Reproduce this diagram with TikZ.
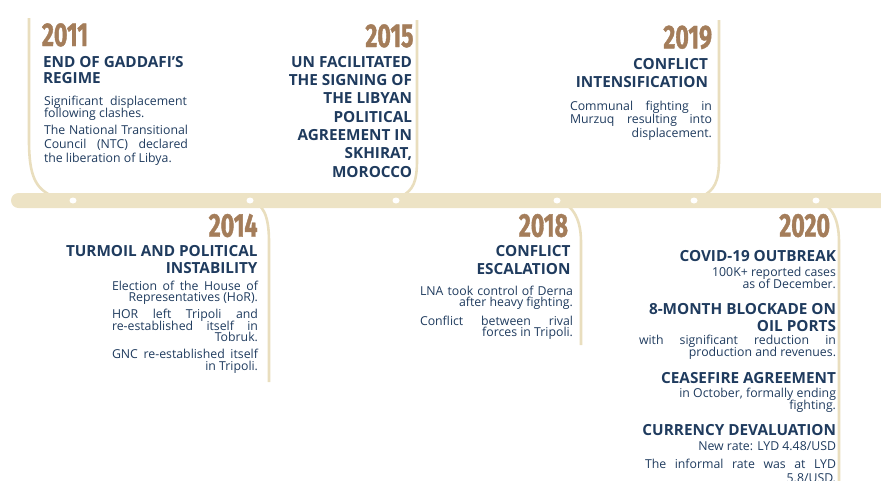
\documentclass[tikz,border=0pt]{standalone}
\usepackage{fontspec}
\setmainfont{Open Sans}
\IfFontExistsTF{Open Sans SemiBold}{\newfontfamily\ttlfont{Open Sans SemiBold}\def\ttlsize{15.8}}{\newfontfamily\ttlfont{Open Sans}[UprightFont=*-Bold,UprightFeatures={}]\def\ttlsize{15.3}}
\newfontfamily\yearfont[FakeStretch=0.7,FakeBold=1.2]{Fira Sans}
\definecolor{yearc}{HTML}{A47D5A}
\definecolor{navy}{HTML}{1F3B5E}
\definecolor{barc}{HTML}{EDE3C5}
\definecolor{linec}{HTML}{E9DEBE}
\newcommand\Lr[5]{\node[#1,anchor=base east] (#2) at (#3,#4) {#5};}
\newcommand\Ll[5]{\node[#1,anchor=base west] (#2) at (#3,#4) {#5};}
\newcommand\Lj[6]{\node[#1,anchor=base west] (#2) at (#3,#4) {\makebox[#5pt][s]{#6}};}
\begin{document}
\begin{tikzpicture}[x=1pt,y=-1pt,
  every node/.style={inner sep=0pt,outer sep=0pt},
  yr/.style={font=\yearfont\bfseries\fontsize{33}{33}\selectfont,text=yearc},
  ttl/.style={font=\ttlfont\fontsize{\ttlsize}{\ttlsize}\selectfont,text=navy},
  bd/.style={font=\fontsize{12.3}{12.3}\selectfont,text=navy},
  tl/.style={draw=linec,line width=2.6pt}]
\useasboundingbox (0,0) rectangle (881,480);
\clip (0,0) rectangle (881,480);
% connector lines
\draw[tl] (29,18) -- (29,140) .. controls (29,175) and (35,188) .. (52,196);
\draw[tl] (417,20) -- (417,160) .. controls (417,182) and (413,190) .. (402,196);
\draw[tl] (719,20) -- (719,160) .. controls (719,182) and (714,190) .. (703,196);
\draw[tl] (250,200) .. controls (263,204) and (269,215) .. (269,242) -- (269,382);
\draw[tl] (557,200) .. controls (570,204) and (581,215) .. (581,242) -- (581,345);
\draw[tl] (816,200) .. controls (829,204) and (839,215) .. (839,242) -- (839,490);
% bar
\fill[barc, rounded corners=7.5pt] (11,193) rectangle (900,208);
\foreach \x in {73,250,396,557,694,816} \fill[white] (\x,200.5) ellipse (3.5pt and 3pt);
% 2011
\Ll{yr}{y11}{42}{46}{2011}
\Ll{ttl}{t11a}{43}{67}{END OF GADDAFI’S}
\Ll{ttl}{t11b}{43}{83.5}{REGIME}
\Lj{bd}{b11a}{44}{105}{143}{Significant displacement}
\Ll{bd}{b11b}{44}{117}{following clashes.}
\Lj{bd}{b11c}{44}{134}{144}{The National Transitional}
\Lj{bd}{b11d}{44}{148.5}{144}{Council (NTC) declared}
\Ll{bd}{b11e}{44}{162.5}{the liberation of Libya.}
% 2015
\Lr{yr}{y15}{413.5}{47}{2015}
\Lr{ttl}{t15a}{412}{67}{UN FACILITATED}
\Lr{ttl}{t15b}{412}{85.3}{THE SIGNING OF}
\Lr{ttl}{t15c}{412}{103.7}{THE LIBYAN}
\Lr{ttl}{t15d}{412}{122}{POLITICAL}
\Lr{ttl}{t15e}{412}{140.3}{AGREEMENT IN}
\Lr{ttl}{t15f}{412}{158.7}{SKHIRAT,}
\Lr{ttl}{t15g}{412}{177}{MOROCCO}
% 2019
\Lr{yr}{y19}{712}{48.3}{2019}
\Lr{ttl}{t19a}{708}{69}{CONFLICT}
\Lr{ttl}{t19b}{708}{87}{INTENSIFICATION}
\Lj{bd}{b19a}{570}{110}{142}{Communal fighting in}
\Lj{bd}{b19b}{570}{123.5}{142}{Murzuq resulting into}
\Lr{bd}{b19c}{712}{137}{displacement.}
% 2014
\Lr{yr}{y14}{257.5}{236.7}{2014}
\Lr{ttl}{t14a}{257.5}{256}{TURMOIL AND POLITICAL}
\Lr{ttl}{t14b}{257.5}{273.3}{INSTABILITY}
\Lj{bd}{b14a}{112}{290}{146}{Election of the House of}
\Lr{bd}{b14b}{258}{301.7}{Representatives (HoR).}
\Lj{bd}{b14c}{112}{318.3}{146}{HOR left Tripoli and}
\Lj{bd}{b14d}{112}{330}{146}{re-established itself in}
\Lr{bd}{b14e}{258}{341.7}{Tobruk.}
\Lj{bd}{b14f}{112}{358.3}{146}{GNC re-established itself}
\Lr{bd}{b14g}{258}{370}{in Tripoli.}
% 2018
\Lr{yr}{y18}{568}{236.7}{2018}
\Lr{ttl}{t18a}{570.5}{256.7}{CONFLICT}
\Lr{ttl}{t18b}{570.5}{274.3}{ESCALATION}
\Lj{bd}{b18a}{420}{295}{153}{LNA took control of Derna}
\Lr{bd}{b18b}{573}{306.7}{after heavy fighting.}
\Lj{bd}{b18c}{420}{325}{153}{Conflict between rival}
\Lr{bd}{b18d}{573}{336.7}{forces in Tripoli.}
% 2020
\Lr{yr}{y20}{830}{236.7}{2020}
\Lr{ttl}{t20a}{836}{261.7}{COVID-19 OUTBREAK}
\Lr{bd}{b20a}{836}{276.7}{100K+ reported cases}
\Lr{bd}{b20b}{836}{288.3}{as of December.}
\Lr{ttl}{t20b}{836}{314}{8-MONTH BLOCKADE ON}
\Lr{ttl}{t20c}{836}{331.7}{OIL PORTS}
\Lj{bd}{b20c}{639}{344}{197}{with significant reduction in}
\Lr{bd}{b20d}{836}{356}{production and revenues.}
\Lr{ttl}{t20d}{836}{383.3}{CEASEFIRE AGREEMENT}
\Lr{bd}{b20e}{836}{397.3}{in October, formally ending}
\Lr{bd}{b20f}{836}{409.3}{fighting.}
\Lr{ttl}{t20e}{836}{435}{CURRENCY DEVALUATION}
\Lr{bd}{b20g}{836}{450.7}{New rate: LYD 4.48/USD}
\Lj{bd}{b20h}{645}{468.3}{191}{The informal rate was at LYD}
\Lr{bd}{b20i}{836}{482}{5.8/USD.}
\end{tikzpicture}
\end{document}
